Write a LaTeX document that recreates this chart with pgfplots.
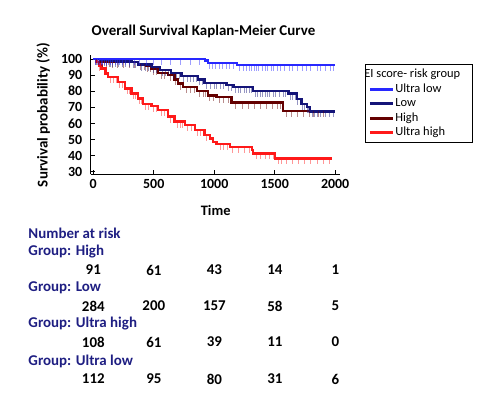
\documentclass[border=0pt]{standalone}
\usepackage{pgfplots}
\pgfplotsset{compat=1.18}
\usepackage{fontspec}
\setmainfont{Carlito}
\definecolor{cUL}{RGB}{40,40,255}
\definecolor{cL}{RGB}{20,20,120}
\definecolor{cH}{RGB}{100,0,0}
\definecolor{cUH}{RGB}{255,25,25}
\definecolor{navytxt}{RGB}{30,30,130}
\pgfdeclareplotmark{cens}{\pgfpathmoveto{\pgfpoint{0pt}{0pt}}\pgfpathlineto{\pgfpoint{0pt}{-6bp}}\pgfusepathqstroke}
\begin{document}
\begin{tikzpicture}[x=1bp,y=1bp]
\path (0,0) rectangle (487,395);
\begin{axis}[
 at={(90.5bp,220.7bp)}, anchor=south west, scale only axis,
 width=249.5bp, height=119.3bp,
 xmin=-23, xmax=2040, ymin=28.4, ymax=102.5,
 axis x line=bottom, axis y line=left,
 axis line style={-, line width=1.3bp},
 xtick={0,500,1000,1500,2000}, ytick={30,40,50,60,70,80,90,100},
 tick style={black, line width=1bp}, major tick length=4bp, tick align=inside,
 ticklabel style={font=\fontsize{14}{14}\selectfont\bfseries},
 yticklabel style={inner sep=0pt, xshift=-8bp},
 xticklabel style={inner sep=0pt, yshift=-5bp},
 /pgf/number format/assume math mode=true,
 /pgf/number format/1000 sep={},
 legend style={at={(1.1,0.9245)}, anchor=north west, draw=black, line width=0.8bp,
   font=\fontsize{12.5}{12.5}\selectfont, inner sep=3bp, row sep=0.6bp,
   nodes={inner sep=1bp, text height=9bp, text depth=3bp}},
 legend cell align=left,
 legend image code/.code={\draw[#1] (0bp,0bp) -- (23bp,0bp);},
 clip=false,
]
\addlegendimage{empty legend}
\addlegendentry{\hspace*{-31bp}EI score- risk group\hspace*{8bp}}
\addlegendimage{cUL, line width=3bp}
\addlegendentry{Ultra low}
\addlegendimage{cL, line width=3bp}
\addlegendentry{Low}
\addlegendimage{cH, line width=3bp}
\addlegendentry{High}
\addlegendimage{cUH, line width=3bp}
\addlegendentry{Ultra high}

% Ultra high
\addplot[forget plot, cUH, line width=2.4bp, const plot] coordinates {
(0,100) (25,98) (50,96) (69,94.2) (100,91) (122,89) (204,85.9) (260,81.8) (315,78.7)
(370,75.6) (411,71.9) (480,71) (535,68.3) (618,64.2) (673,61.1) (756,59) (839,55.9)
(921,52.8) (965,50.7) (990,48.6) (1020,47.2) (1130,45.5) (1310,43.5) (1323,41.4)
(1502,38.3) (1975,38.3)};
\addplot[forget plot, only marks, mark=cens, cUH, opacity=0.45, mark options={line width=1bp}] coordinates {
(55,96) (140,89) (170,89) (190,89) (220,85.9) (240,85.9) (280,81.8) (300,81.8)
(330,78.7) (350,78.7) (380,75.6) (400,75.6) (430,71.9) (460,71.9) (500,71) (520,71)
(560,68.3) (590,68.3) (640,64.2) (660,64.2) (700,61.1) (720,61.1) (740,61.1)
(780,59) (810,59) (860,55.9) (890,55.9) (910,55.9) (940,52.8) (1050,47.2) (1080,47.2)
(1110,47.2) (1150,45.5) (1200,45.5) (1250,45.5) (1290,45.5) (1350,41.4) (1380,41.4)
(1420,41.4) (1460,41.4) (1490,41.4) (1530,38.3) (1560,38.3) (1600,38.3) (1650,38.3)
(1700,38.3) (1750,38.3) (1800,38.3) (1850,38.3) (1900,38.3) (1950,38.3)};

% High
\addplot[forget plot, cH, line width=2.4bp, const plot] coordinates {
(0,100) (60,98.5) (150,98) (370,97) (438,95.6) (480,94) (535,91.5) (618,89.9)
(673,87.4) (700,84.7) (742,82.6) (860,80) (949,77.4) (1020,76.4) (1144,72.9)
(1571,67.6) (2000,67.6)};
\addplot[forget plot, only marks, mark=cens, cH, opacity=0.45, mark options={line width=1bp}] coordinates {
(30,100) (80,98.5) (110,98.5) (130,98.5) (160,98) (200,98) (250,98) (300,98) (340,98)
(390,97) (420,97) (450,95.6) (470,95.6) (500,94) (520,94) (560,91.5) (590,91.5)
(640,89.9) (660,89.9) (680,87.4) (720,84.7) (770,82.6) (800,82.6) (840,82.6)
(880,80) (910,80) (930,80) (960,77.4) (990,77.4) (1040,76.4) (1080,76.4) (1120,76.4)
(1180,72.9) (1230,72.9) (1280,72.9) (1330,72.9) (1380,72.9) (1430,72.9) (1480,72.9)
(1520,72.9) (1550,72.9) (1600,67.6) (1640,67.6) (1690,67.6) (1740,67.6) (1790,67.6)
(1820,67.6) (1860,67.6) (1900,67.6)};

% Low
\addplot[forget plot, cL, line width=2.4bp, const plot] coordinates {
(0,100) (60,99.5) (130,99) (200,98.5) (315,98) (370,96.5) (480,95) (550,93)
(645,91.5) (728,89.4) (866,87.4) (921,85) (1103,83.7) (1158,82.6) (1323,80)
(1613,78.5) (1682,75.3) (1723,72.2) (1765,70.2) (1792,67.5) (2000,67.5)};
\addplot[forget plot, only marks, mark=cens, cL, opacity=0.45, mark options={line width=1bp}] coordinates {
(20,100) (40,100) (70,99.5) (90,99.5) (110,99.5) (140,99) (160,99) (180,99)
(210,98.5) (240,98.5) (270,98.5) (300,98.5) (330,98) (350,98) (400,96.5) (430,96.5)
(460,96.5) (500,95) (520,95) (570,93) (600,93) (620,93) (660,91.5) (690,91.5)
(710,91.5) (750,89.4) (780,89.4) (800,89.4) (830,89.4) (850,89.4) (880,87.4)
(900,87.4) (940,85) (970,85) (1000,85) (1020,85) (1050,85) (1080,85) (1120,83.7)
(1140,83.7) (1180,82.6) (1200,82.6) (1220,82.6) (1250,82.6) (1270,82.6) (1290,82.6)
(1310,82.6) (1340,80) (1360,80) (1380,80) (1400,80) (1420,80) (1440,80) (1460,80)
(1490,80) (1510,80) (1540,80) (1570,80) (1590,80) (1630,78.5) (1650,78.5) (1670,78.5)
(1690,75.3) (1710,75.3) (1730,72.2) (1750,72.2) (1770,70.2) (1780,70.2) (1810,67.5)
(1830,67.5) (1850,67.5) (1880,67.5) (1920,67.5) (1950,67.5) (1990,67.5)};

% Ultra low
\addplot[forget plot, cUL, line width=2.4bp, const plot] coordinates {
(0,100) (925,99) (950,97.4) (1186,96.3) (2000,96.3)};
\addplot[forget plot, only marks, mark=cens, cUL, opacity=0.45, mark options={line width=1bp}] coordinates {
(20,100) (35,100) (50,100) (65,100) (80,100) (95,100) (110,100) (125,100) (140,100)
(160,100) (180,100) (200,100) (215,100) (240,100) (270,100) (300,100) (340,100)
(380,100) (440,100) (500,100) (560,100) (640,100) (720,100) (800,100) (880,100)
(960,97.4) (985,97.4) (1010,97.4) (1040,97.4) (1070,97.4) (1100,97.4) (1130,97.4)
(1160,97.4) (1210,96.3) (1240,96.3) (1270,96.3) (1290,96.3) (1310,96.3) (1330,96.3)
(1350,96.3) (1370,96.3) (1400,96.3) (1420,96.3) (1440,96.3) (1470,96.3) (1490,96.3)
(1520,96.3) (1550,96.3) (1580,96.3) (1620,96.3) (1650,96.3) (1690,96.3) (1730,96.3)
(1760,96.3) (1800,96.3) (1850,96.3) (1880,96.3) (1920,96.3) (1960,96.3) (1990,96.3)};
\end{axis}

\node[font=\fontsize{15}{15}\selectfont\bfseries] at (203.5,364) {Overall Survival Kaplan-Meier Curve};
\node[font=\fontsize{14.5}{14.5}\selectfont\bfseries] at (215.7,185) {Time};
\node[font=\fontsize{15}{15}\selectfont\bfseries, rotate=90] at (43.3,280) {Survival probability (\%)};

\begin{scope}[every node/.style={font=\fontsize{15}{15}\selectfont\bfseries, inner sep=0pt}]
\node[anchor=west, text=navytxt] at (28.3,162) {Number at risk};
\node[anchor=west, text=navytxt] at (28.3,143) {Group: High};
\node[anchor=west, text=navytxt] at (28.3,107) {Group: Low};
\node[anchor=west, text=navytxt] at (28.3,71) {Group: Ultra high};
\node[anchor=west, text=navytxt] at (28.3,34) {Group: Ultra low};
\foreach \v [count=\i from 0] in {91,61,43,14,1} {\node at (93.3+60.55*\i,125) {\v};}
\foreach \v [count=\i from 0] in {284,200,157,58,5} {\node at (93.3+60.55*\i,89) {\v};}
\foreach \v [count=\i from 0] in {108,61,39,11,0} {\node at (93.3+60.55*\i,53) {\v};}
\foreach \v [count=\i from 0] in {112,95,80,31,6} {\node at (93.3+60.55*\i,16) {\v};}
\end{scope}
\end{tikzpicture}
\end{document}
